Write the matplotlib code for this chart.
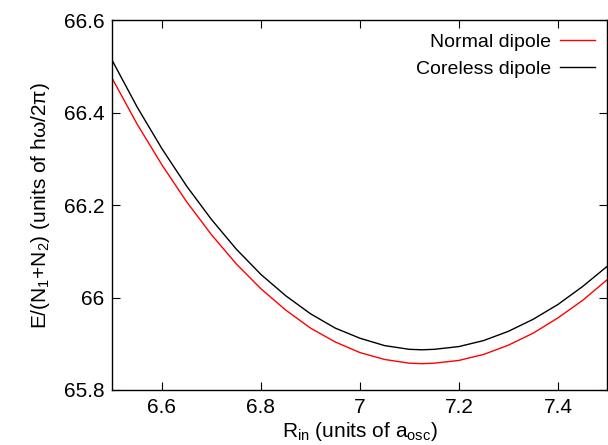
import matplotlib
matplotlib.use("Agg")
import matplotlib.pyplot as plt
from matplotlib.ticker import FuncFormatter, MultipleLocator

# values
r_in = [6.50, 6.55, 6.60, 6.65, 6.70, 6.75, 6.80, 6.85, 6.90, 6.95, 7.00,
        7.05, 7.10, 7.125, 7.15, 7.20, 7.25, 7.30, 7.35, 7.40, 7.45, 7.50]
normal = [66.473, 66.375, 66.287, 66.207, 66.136, 66.073, 66.019, 65.973,
          65.934, 65.904, 65.881, 65.866, 65.858, 65.857, 65.858, 65.864,
          65.877, 65.897, 65.923, 65.956, 65.994, 66.039]
coreless = [66.512, 66.412, 66.322, 66.241, 66.169, 66.105, 66.050, 66.004,
            65.965, 65.934, 65.912, 65.896, 65.888, 65.887, 65.888, 65.894,
            65.907, 65.927, 65.953, 65.985, 66.024, 66.068]

plt.rcParams.update({
    "font.family": ["Liberation Sans", "DejaVu Sans"],
    "mathtext.fontset": "custom",
    "mathtext.rm": "Liberation Sans",
    "mathtext.it": "Liberation Sans",
    "font.size": 15,
})

fig = plt.figure(figsize=(6.08, 4.45), dpi=100)
ax = fig.add_axes([0.185, 0.1236, 0.814, 0.8308])

ax.plot(r_in, normal, color="#ff0000", lw=1.0, label="Normal dipole")
ax.plot(r_in, coreless, color="black", lw=1.0, label="Coreless dipole")

ax.set_xlim(6.5, 7.5)
ax.set_ylim(65.8, 66.6)
ax.xaxis.set_major_locator(MultipleLocator(0.2))
ax.yaxis.set_major_locator(MultipleLocator(0.2))
fmt = FuncFormatter(lambda v, _: f"{v:g}" if abs(v - round(v)) > 1e-6 else f"{round(v):d}")
ax.xaxis.set_major_formatter(fmt)
ax.yaxis.set_major_formatter(fmt)
ax.tick_params(direction="in", top=True, right=True, length=6, width=0.8, pad=6)
for s in ax.spines.values():
    s.set_linewidth(1.0)

ax.set_xlabel(r"R$_{\mathrm{in}}$ (units of a$_{\mathrm{osc}}$)", labelpad=2)
ax.set_ylabel(r"E/(N$_1$+N$_2$) (units of h$\omega$/2$\pi$)", labelpad=8)

ax.legend(loc="upper right", frameon=False, markerfirst=False, handlelength=1.8,
          handletextpad=0.45, fontsize=14, borderaxespad=0.35, labelspacing=0.5,
          borderpad=0.3)

fig.savefig("out.png", dpi=100)
